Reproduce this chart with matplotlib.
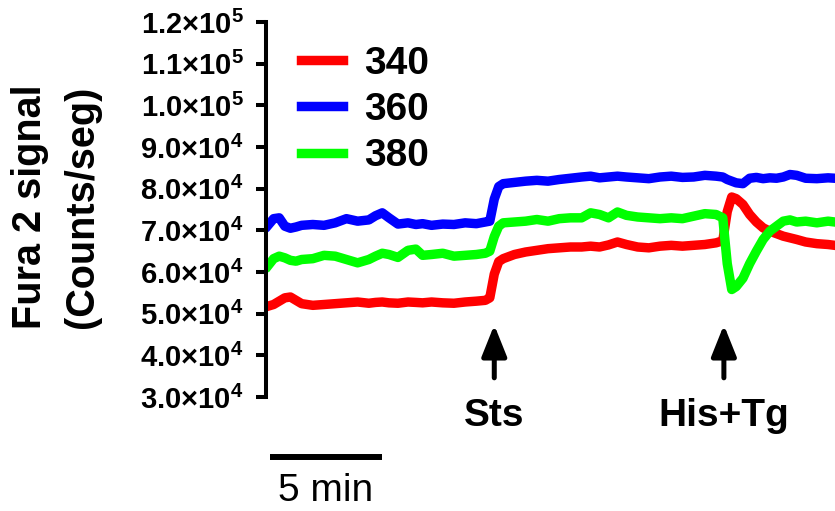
import numpy as np
import matplotlib
matplotlib.use('Agg')
import matplotlib.pyplot as plt

plt.rcParams['font.family'] = ['Liberation Sans', 'DejaVu Sans']
plt.rcParams['mathtext.fontset'] = 'custom'
plt.rcParams['mathtext.rm'] = 'Liberation Sans:bold'
plt.rcParams['mathtext.it'] = 'Liberation Sans:bold'
plt.rcParams['mathtext.bf'] = 'Liberation Sans:bold'

# time in minutes, signals in units of 10^4 counts/seg
time_min = [0, 0.25, 0.5, 0.75, 1.0, 1.25, 1.5, 2.0, 2.5, 3.0,
            3.5, 4.0, 4.5, 4.8, 5.1, 5.4, 5.8, 6.25, 6.6, 6.9,
            7.3, 7.8, 8.3, 8.8, 9.3, 9.7, 9.9, 10.1, 10.3, 10.5,
            11.0, 11.5, 12.0, 12.5, 13.0, 13.5, 14.0, 14.4, 14.8, 15.2,
            15.6, 16.0, 16.5, 17.0, 17.5, 18.0, 18.5, 19.0, 19.5, 20.0,
            20.3, 20.5, 20.7, 20.9, 21.2, 21.5, 21.8, 22.1, 22.4, 22.7,
            23.0, 23.3, 23.6, 24.0, 24.5, 25.0, 25.3]

sig_340 = [5.18, 5.22, 5.30, 5.38, 5.40, 5.32, 5.24, 5.20, 5.22, 5.24,
           5.26, 5.28, 5.25, 5.27, 5.28, 5.26, 5.25, 5.28, 5.27, 5.26,
           5.28, 5.26, 5.25, 5.28, 5.30, 5.32, 5.38, 5.95, 6.25, 6.32,
           6.42, 6.48, 6.52, 6.56, 6.58, 6.60, 6.60, 6.62, 6.60, 6.65,
           6.72, 6.66, 6.60, 6.58, 6.62, 6.64, 6.62, 6.64, 6.66, 6.70,
           6.75, 7.45, 7.80, 7.76, 7.62, 7.38, 7.20, 7.06, 6.98, 6.92,
           6.86, 6.82, 6.78, 6.72, 6.68, 6.66, 6.64]

sig_360 = [7.12, 7.28, 7.30, 7.10, 7.05, 7.08, 7.12, 7.14, 7.12, 7.18,
           7.28, 7.22, 7.25, 7.35, 7.42, 7.30, 7.15, 7.18, 7.14, 7.16,
           7.12, 7.15, 7.14, 7.18, 7.16, 7.20, 7.22, 7.75, 8.05, 8.12,
           8.15, 8.18, 8.20, 8.18, 8.22, 8.25, 8.28, 8.30, 8.26, 8.28,
           8.30, 8.28, 8.26, 8.24, 8.28, 8.30, 8.27, 8.28, 8.32, 8.30,
           8.28, 8.22, 8.18, 8.14, 8.12, 8.25, 8.27, 8.24, 8.26, 8.25,
           8.28, 8.34, 8.32, 8.25, 8.24, 8.26, 8.25]

sig_380 = [6.15, 6.32, 6.38, 6.34, 6.28, 6.26, 6.30, 6.32, 6.40, 6.38,
           6.30, 6.22, 6.30, 6.38, 6.45, 6.42, 6.35, 6.52, 6.55, 6.40,
           6.42, 6.45, 6.38, 6.40, 6.42, 6.45, 6.50, 6.85, 7.10, 7.18,
           7.20, 7.22, 7.26, 7.22, 7.28, 7.30, 7.30, 7.42, 7.38, 7.30,
           7.44, 7.36, 7.32, 7.30, 7.28, 7.30, 7.28, 7.34, 7.40, 7.38,
           7.30, 6.20, 5.58, 5.65, 5.85, 6.20, 6.50, 6.78, 6.98, 7.10,
           7.22, 7.25, 7.20, 7.22, 7.18, 7.22, 7.20]

series_labels = ['340', '360', '380']
series_colors = ['#ff0000', '#0000ff', '#00ff00']
y_ticks = [3e4, 4e4, 5e4, 6e4, 7e4, 8e4, 9e4, 1.0e5, 1.1e5, 1.2e5]
events = [(10.1, 'Sts'), (20.35, 'His+Tg')]

t = np.array(time_min)
fig = plt.figure(figsize=(8.35, 5.11), dpi=100)
ax = fig.add_axes([266 / 835, 1 - 397 / 511, 569 / 835, 375 / 511])

for sig, lab, col in zip([sig_340, sig_360, sig_380], series_labels, series_colors):
    ax.plot(t, np.array(sig) * 1e4, color=col, lw=6.8, label=lab,
            solid_joinstyle='round')

ax.set_xlim(-0.09, 25.31)
ax.set_ylim(3e4, 1.2e5)

# y ticks like 1.2x10^5
def sci_label(v):
    e = int(np.floor(np.log10(v)))
    return r'$%.1f{\times}10^{%d}$' % (v / 10 ** e, e)

ax.set_yticks(y_ticks)
ax.set_yticklabels([sci_label(v) for v in y_ticks], fontsize=21)
ax.tick_params(axis='y', width=2.9, length=7.5, pad=8.5)
ax.set_xticks([])
for s in ['top', 'right', 'bottom']:
    ax.spines[s].set_visible(False)
ax.spines['left'].set_linewidth(2.9)

fig.text(30 / 835, 1 - 207 / 511, 'Fura 2 signal', rotation=90,
         ha='center', va='center', fontsize=28.5, fontweight='bold')
fig.text(82 / 835, 1 - 207 / 511, '(Counts/seg)', rotation=90,
         ha='center', va='center', fontsize=28.5, fontweight='bold')

leg = ax.legend(loc='upper left', bbox_to_anchor=(301 / 835, 1 - 46 / 511),
                bbox_transform=fig.transFigure, frameon=False, borderpad=0,
                borderaxespad=0, handlelength=1.08, handletextpad=0.55,
                labelspacing=0.26, prop={'size': 28, 'weight': 'bold'})

# stimulus arrows
for tx, txt in events:
    ax.annotate('', xy=(tx, 4.73e4), xytext=(tx, 3.46e4),
                arrowprops=dict(arrowstyle='-|>,head_length=0.95,head_width=0.38',
                                color='black', lw=3.6, mutation_scale=20,
                                shrinkA=0, shrinkB=0),
                annotation_clip=False)
    ax.text(tx, 2.305e4, txt, ha='center', va='baseline', fontsize=28,
            fontweight='bold', clip_on=False)

# 5 min scale bar
ax.plot([0.09, 5.09], [1.56e4, 1.56e4], color='black', lw=4.3,
        solid_capstyle='butt', clip_on=False)
ax.text(2.59, 0.50e4, '5 min', ha='center', va='baseline', fontsize=28,
        clip_on=False)

fig.savefig('out.png', dpi=100)
